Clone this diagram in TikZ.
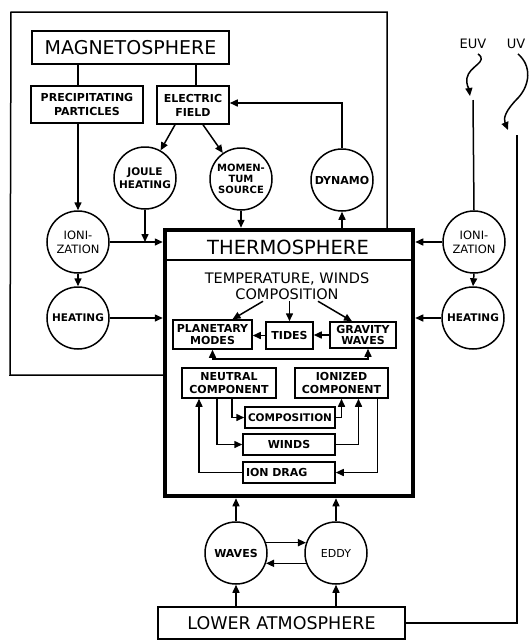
\documentclass[tikz,border=0pt]{standalone}
\usepackage{fontspec}
\setmainfont{DejaVu Sans}
\usetikzlibrary{arrows.meta,calc}
\newcommand\fsz[2]{\fontsize{#1}{#2}\selectfont}
\begin{document}
\begin{tikzpicture}[x=1pt,y=-1pt,
  line width=1.5pt,
  box/.style={draw,rectangle,inner sep=0pt,align=center,font=\fsz{11}{12.5}\bfseries},
  circ/.style={draw,circle,minimum size=62pt,inner sep=0pt,align=center,font=\fsz{11}{13}\bfseries},
  arr/.style={-{Triangle[length=8pt,width=7pt]}},
  arrb/.style={{Triangle[length=8pt,width=7pt]}-{Triangle[length=8pt,width=7pt]}},
]
\useasboundingbox (0,0) rectangle (529,641);

% ---- magnetosphere part
\node[box,minimum width=197pt,minimum height=33pt,font=\fsz{19}{22}] (mag) at (130.5,47.5) {MAGNETOSPHERE};
\node[box,minimum width=112pt,minimum height=37pt,font=\fsz{11}{14}\bfseries] (pp) at (87,104.5) {PRECIPITATING\\PARTICLES};
\node[box,minimum width=72pt,minimum height=38pt,font=\fsz{11}{14}\bfseries] (ef) at (193,105) {ELECTRIC\\FIELD};
\node[circ,font=\fsz{10.5}{13}\bfseries] (joule) at (145,178) {JOULE\\HEATING};
\node[circ,font=\fsz{10}{11}\bfseries] (mom) at (241,179) {MOMEN-\\TUM\\SOURCE};
\node[circ] (dyn) at (342,180) {DYNAMO};
\node[circ,font=\fsz{11.5}{14}] (ionL) at (78,242) {IONI-\\ZATION};
\node[circ,font=\fsz{10.5}{13}\bfseries] (heatL) at (78,318) {HEATING};
\node[circ,font=\fsz{11.5}{14}] (ionR) at (474,242) {IONI-\\ZATION};
\node[circ,font=\fsz{10.5}{13}\bfseries] (heatR) at (473,318) {HEATING};

% ---- thermosphere
\node[draw,line width=4.5pt,minimum width=248pt,minimum height=266pt,inner sep=0pt] (therm) at (289,363) {};
\draw[line width=2pt] (therm.west |- 0,260) -- (therm.east |- 0,260);
\node[font=\fsz{19.5}{22}] (thermlbl) at (288,247) {THERMOSPHERE};
\node[font=\fsz{14.5}{16},align=center,inner sep=1pt] (temp) at (287,286) {TEMPERATURE, WINDS\\COMPOSITION};
\node[box,minimum width=79pt,minimum height=29pt,font=\fsz{11}{11.5}\bfseries] (pm) at (212.5,334.5) {PLANETARY\\MODES};
\node[box,minimum width=47pt,minimum height=27pt] (tides) at (289.5,335.5) {TIDES};
\node[box,minimum width=66pt,minimum height=26pt,font=\fsz{11}{11.5}\bfseries] (gw) at (363,335) {GRAVITY\\WAVES};
\node[box,minimum width=94pt,minimum height=30pt] (nc) at (229,383) {NEUTRAL\\COMPONENT};
\node[box,minimum width=93pt,minimum height=30pt] (ic) at (341.5,383) {IONIZED\\COMPONENT};
\node[box,minimum width=90pt,minimum height=21pt,font=\fsz{10.5}{12}\bfseries] (comp) at (290,417.5) {COMPOSITION};
\node[box,minimum width=92pt,minimum height=21pt] (winds) at (289,444.5) {WINDS};
\node[box,minimum width=92pt,minimum height=21pt,text width=86pt,align=left] (iondrag) at (289,472.5) {ION DRAG};

% ---- lower part
\node[circ] (waves) at (236,553) {WAVES};
\node[circ,font=\fsz{11}{13}] (eddy) at (336,553) {EDDY};
\node[box,minimum width=247pt,minimum height=32pt,font=\fsz{17.5}{20}] (la) at (281.5,623) {LOWER ATMOSPHERE};

% ---- solar input
\node[font=\fsz{13}{15}] (euv) at (473,44) {EUV};
\node[font=\fsz{13}{15}] (uv) at (516,44) {UV};
\coordinate (euvtop) at (473,100);
\coordinate (uvtop) at (517,135);

% ---- magnetosphere frame
\draw (therm.west |- 0,375) -- (10,375) -- (11,12) -- (387,12) -- (387,0 |- therm.north);

% ---- connectors
\coordinate (efN) at ([xshift=3pt]ef.north);
\draw (efN) -- (efN |- mag.south);
\draw (mag.south -| ionL) -- (pp.north -| ionL);
\draw[arr] (pp.south -| ionL) -- (ionL.north);
\draw[arr] ([xshift=-18pt]ef.south) -- (joule);
\draw[arr] ([xshift=10pt]ef.south) -- (mom);
\draw[arr] (dyn.north) |- ([yshift=2pt]ef.east);
\draw[arr] (joule.south) -- (joule.south |- ionL.east);
\draw[arr] (ionL.east) -- (ionL.east -| therm.west);
\draw[arr] (ionL.south) -- (heatL.north);
\draw[arr] (heatL.east) -- (heatL.east -| therm.west);
\draw[arr] (mom.south) -- (mom.south |- therm.north);
\draw[arr] (dyn.south |- therm.north) -- (dyn.south);
\draw[arr] (ionR.west) -- (ionR.west -| therm.east);
\draw[arr] (ionR.south) -- (heatR.north);
\draw[arr] (heatR.west) -- (heatR.west -| therm.east);

\draw[arr] ([xshift=5pt,yshift=-1pt]euv.south) .. controls (489,62) and (469,66) .. (467,78) .. controls (466,85) and (469,89) .. (470,96);
\draw[arr] ([xshift=2pt,yshift=-1pt]uv.south) .. controls (532,66) and (530,85) .. (518,98) .. controls (506,110) and (503,118) .. (508,130);
\draw (euvtop) -- (ionR.north);
\draw (uvtop) |- (la.east);

% inside thermosphere
\coordinate (tA) at ([xshift=-24pt]temp.south);
\coordinate (tC) at ([xshift=31pt]temp.south);
\draw[arr] (tA) -- ([xshift=20pt]pm.north);
\draw[arr] (tides.north |- temp.south) -- (tides.north);
\draw[arr] (tC) -- ([xshift=-11pt]gw.north);
\draw[arr] (tides.west) -- (tides.west -| pm.east);
\draw[arr] (gw.west) -- (gw.west -| tides.east);
\draw[arrb] (pm.south) -- ++(0,9) -| ([xshift=5pt]gw.south);

\coordinate (n1) at ([xshift=3pt]nc.south);
\coordinate (n2) at ([xshift=-12pt]nc.south);
\coordinate (n3) at ([xshift=-30pt]nc.south);
\coordinate (i2) at ([xshift=17pt]ic.south);
\coordinate (i3) at ([xshift=36pt]ic.south);
\draw[arr] (n1) |- (comp.west);
\draw[arr] (n2) |- (winds.west);
\draw[arr] (iondrag.west) -| (n3);
\draw[arr] (comp.east) -| (ic.south);
\draw[arr] (winds.east) -| (i2);
\draw[arr] (i3) |- (iondrag.east);

% lower
\draw[arr] (waves.north) -- (waves.north |- therm.south);
\draw[arr] (eddy.north) -- (eddy.north |- therm.south);
\draw[arr] (waves.19) -- (eddy.161);
\draw[arr] (eddy.199) -- (waves.341);
\draw[arr] (waves.south |- la.north) -- (waves.south);
\draw[arr] (eddy.south |- la.north) -- (eddy.south);
\end{tikzpicture}
\end{document}
